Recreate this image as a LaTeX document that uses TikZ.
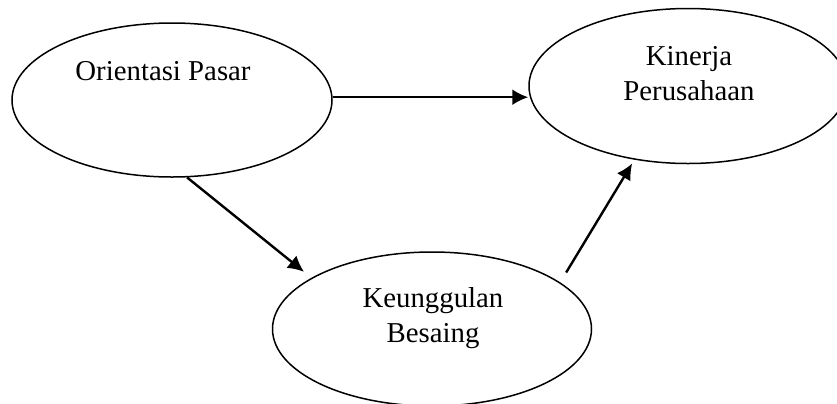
\documentclass[tikz,border=0pt]{standalone}
\usepackage{fontspec}
\setmainfont{Liberation Serif}
\usetikzlibrary{shapes.geometric,arrows.meta}

\begin{document}
\begin{tikzpicture}[x=0.5pt,y=-0.5pt,
  oval/.style={draw,ellipse,line width=0.75pt,inner sep=0pt},
  link/.style={line width=1.2pt,-{Latex[length=8pt,width=8pt]}},
  txt/.style={font=\fontsize{14.4}{17.25}\selectfont,align=center,inner sep=0pt}]
\useasboundingbox (0,0) rectangle (837,403);
\clip (0,0) rectangle (837,403);

% Ellipses
\node[oval,minimum width=160pt,minimum height=77pt] (op) at (172,100) {};
\node[oval,minimum width=159pt,minimum height=77.5pt] (kp) at (688,86) {};
\node[oval,minimum width=159.5pt,minimum height=77pt] (kb) at (432,329) {};

% Labels (base = last line)
\node[txt,anchor=base] (opt) at (163,80) {Orientasi Pasar};
\node[txt,anchor=base] (kpt) at (689,100) {Kinerja\\Perusahaan};
\node[txt,anchor=base] (kbt) at (433,342) {Keunggulan\\Besaing};

% Paths
\draw[link] (op.1) -- (op.1 -| kp.west);
\draw[link,shorten >=4.75pt] (op.-79) -- (kb.157);
\draw[link,shorten <=5.75pt,shorten >=2.2pt] (kb.20) -- (kp.-126);
\end{tikzpicture}
\end{document}
